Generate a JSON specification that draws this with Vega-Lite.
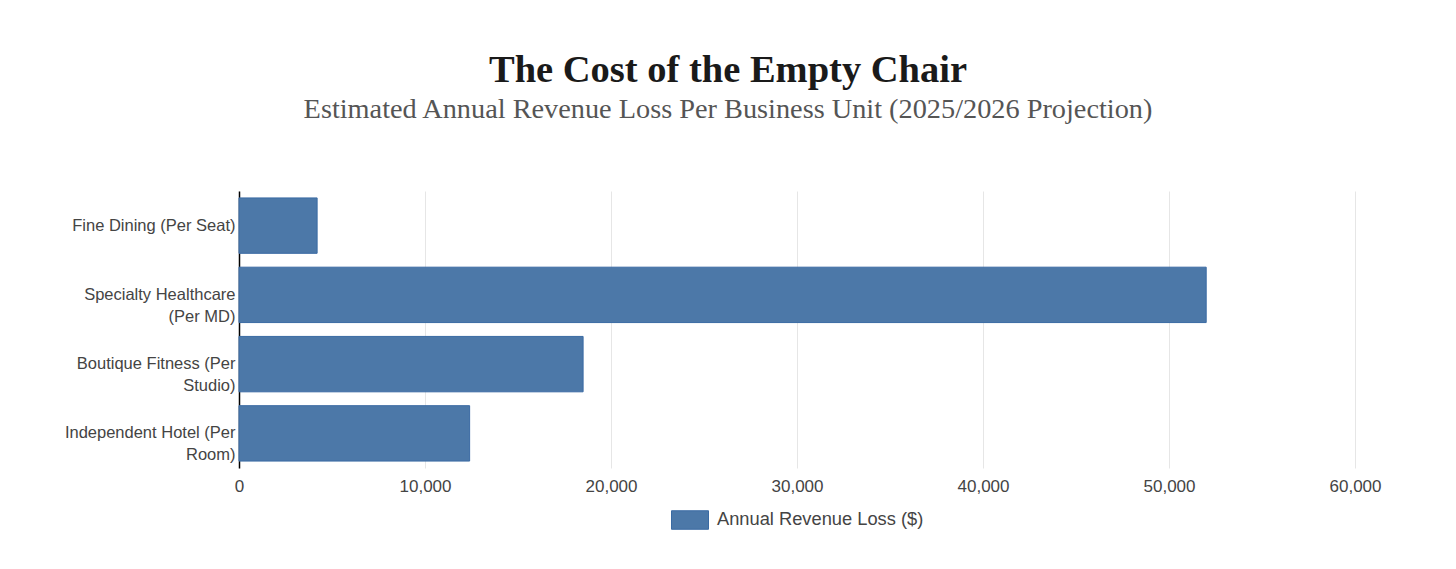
{
  "$schema": "https://vega.github.io/schema/vega-lite/v6.json",
  "autosize": {"type": "none"},
  "width": 1116,
  "height": 277,
  "padding": {"left": 239, "top": 191, "right": 101, "bottom": 101},
  "background": "white",
  "title": {
    "text": "The Cost of the Empty Chair",
    "subtitle": "Estimated Annual Revenue Loss Per Business Unit (2025/2026 Projection)",
    "anchor": "middle",
    "dx": -69,
    "offset": 67,
    "font": "Liberation Serif",
    "fontSize": 38.5,
    "fontWeight": "bold",
    "color": "#1a1a1a",
    "subtitleFont": "Liberation Serif",
    "subtitleFontSize": 28.3,
    "subtitleColor": "#555555",
    "subtitlePadding": 5
  },
  "data": {
    "values": [
      {"unit": "Fine Dining (Per Seat)", "loss": 4200},
      {"unit": "Specialty Healthcare (Per MD)", "loss": 52000},
      {"unit": "Boutique Fitness (Per Studio)", "loss": 18500},
      {"unit": "Independent Hotel (Per Room)", "loss": 12400}
    ]
  },
  "mark": {"type": "bar", "stroke": "#3a6aa3", "strokeWidth": 1},
  "encoding": {
    "y": {
      "field": "unit",
      "type": "nominal",
      "sort": null,
      "title": null,
      "scale": {"paddingInner": 0.2, "paddingOuter": 0.1},
      "axis": {
        "domain": true,
        "domainColor": "#000000",
        "domainWidth": 1.5,
        "ticks": false,
        "labelPadding": 4,
        "labelFont": "Liberation Sans",
        "labelFontSize": 16.5,
        "labelColor": "#444444",
        "labelLineHeight": 22,
        "labelLimit": 300,
        "labelExpr": "length(datum.label) > 22 ? [substring(datum.label, 0, lastindexof(substring(datum.label, 0, 23), ' ')), substring(datum.label, lastindexof(substring(datum.label, 0, 23), ' ') + 1)] : datum.label"
      }
    },
    "x": {
      "field": "loss",
      "type": "quantitative",
      "title": null,
      "scale": {"domain": [0, 60000]},
      "axis": {
        "values": [0, 10000, 20000, 30000, 40000, 50000, 60000],
        "format": ",d",
        "domain": false,
        "ticks": false,
        "grid": true,
        "gridColor": "#e6e6e6",
        "labelFlush": false,
        "labelPadding": 10,
        "labelFont": "Liberation Sans",
        "labelFontSize": 17,
        "labelColor": "#444444"
      }
    },
    "color": {
      "datum": "Annual Revenue Loss ($)",
      "scale": {"range": ["#4c78a8"]},
      "legend": {
        "title": null,
        "orient": "bottom",
        "direction": "horizontal",
        "offset": 7,
        "symbolType": "M-1,-0.5H1V0.5H-1Z",
        "symbolSize": 1369,
        "symbolStrokeColor": "#3a6aa3",
        "symbolStrokeWidth": 1,
        "symbolOpacity": 1,
        "labelFont": "Liberation Sans",
        "labelFontSize": 18.3,
        "labelColor": "#444444",
        "labelLimit": 400,
        "labelOffset": 8
      }
    }
  },
  "config": {
    "view": {"stroke": null},
    "legend": {"layout": {"bottom": {"anchor": "middle"}}}
  }
}
